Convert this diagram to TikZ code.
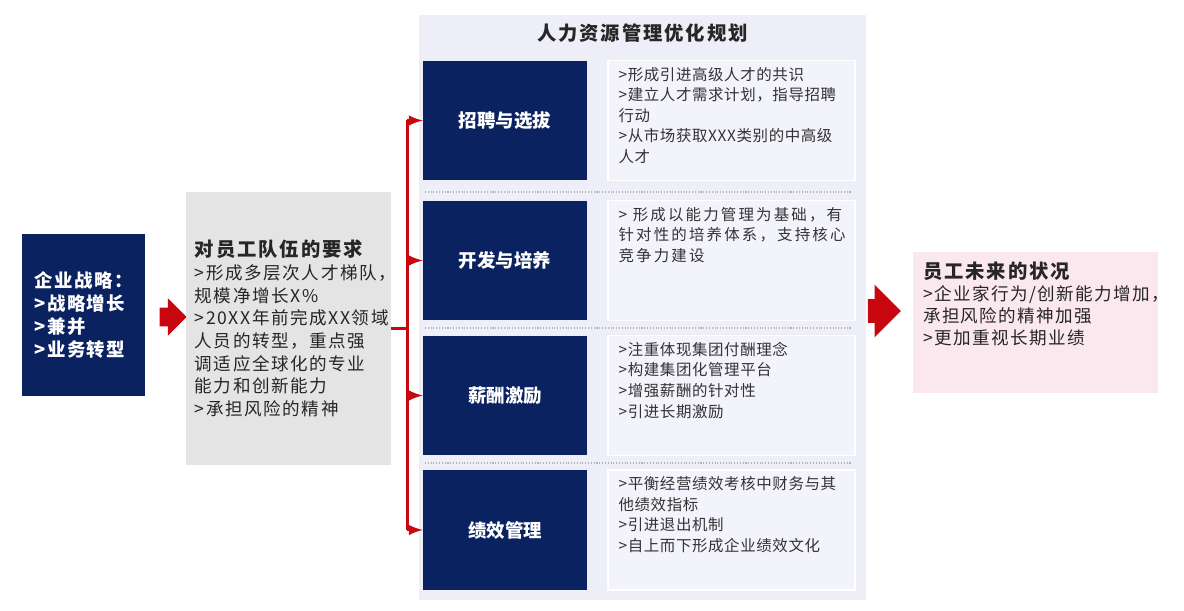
\documentclass[tikz,border=0pt]{standalone}
\usepackage{fontspec}
\setmainfont{Noto Sans CJK SC}
\usepackage{xcolor}
\usetikzlibrary{shapes,arrows,positioning}

\definecolor{navy}{HTML}{0B2260}
\definecolor{arrowred}{HTML}{C8070E}
\definecolor{reqgray}{HTML}{E4E4E4}
\definecolor{panelblue}{HTML}{EEEEF8}
\definecolor{descblue}{HTML}{F3F3FB}
\definecolor{futurepink}{HTML}{FBE8EE}

\newcommand{\titlefont}{\fontsize{11}{14}\selectfont\bfseries\addfontfeatures{LetterSpace=10}}
\newcommand{\bodyfont}{\fontsize{10}{12.9}\selectfont\addfontfeatures{LetterSpace=9}}
\newcommand{\descfont}{\fontsize{8.8}{11.7}\selectfont\addfontfeatures{LetterSpace=4}}

\begin{document}
\begin{tikzpicture}[
    x=0.02cm, y=-0.02cm,
    navybox/.style={rectangle, fill=navy, text=white, font=\fontsize{10.5}{13}\selectfont\bfseries, minimum width=3.28cm, minimum height=2.4cm, inner sep=0},
    descbox/.style={rectangle, fill=descblue, draw=white, line width=0.8pt, minimum width=4.94cm, minimum height=2.4cm},
    desctext/.style={anchor=north west, align=left, font=\descfont, text=black!80, inner sep=3pt},
    blockarrow/.style={single arrow, fill=arrowred, inner xsep=0pt, single arrow head indent=0pt},
    redline/.style={draw=arrowred, line width=1.7pt},
    sepline/.style={draw=black!30, densely dotted, line width=0.6pt}
]
    \useasboundingbox[fill=white] (0,0) rectangle (1184,611);

    % left side
    \node[navybox, minimum width=2.46cm, minimum height=3.26cm, align=left, font=\fontsize{10.5}{13}\selectfont\bfseries\addfontfeatures{LetterSpace=8}] (strat) at (83.5,315)
        {企业战略：\\>战略增长\\>兼并\\>业务转型};
    \node[blockarrow, minimum height=0.54cm, inner ysep=0.18cm, single arrow head extend=0.19cm] (arrowa) at (168.5,317) {};
    \node[rectangle, fill=reqgray, minimum width=4.1cm, minimum height=5.46cm, text width=3.75cm, align=left, font=\bodyfont, text=black!85] (req) at (288.5,328.5)
        {{\titlefont 对员工队伍的要求}\\>形成多层次人才梯队，\\规模净增长X\%\\>20XX年前完成XX领域\\人员的转型，重点强\\调适应全球化的专业\\能力和创新能力\\>承担风险的精神};

    % planning panel
    \node[rectangle, fill=panelblue, minimum width=8.94cm, minimum height=11.7cm] (panel) at (642.5,307.5) {};
    \node[font=\titlefont, text=black!85] (paneltitle) at (642.5,33) {人力资源管理优化规划};

    \node[navybox] (rec) at (505,120.5) {招聘与选拔};
    \node[navybox] (dev) at (505,260.5) {开发与培养};
    \node[navybox] (pay) at (505,395.5) {薪酬激励};
    \node[navybox] (perf) at (505,530) {绩效管理};

    \node[descbox] (recdesc) at (731.5,120.5) {};
    \node[descbox] (devdesc) at (731.5,260.5) {};
    \node[descbox] (paydesc) at (731.5,395.5) {};
    \node[descbox] (perfdesc) at (731.5,530) {};

    \node[desctext] (rectext) at ([xshift=3.2pt,yshift=-1pt]recdesc.north west)
        {>形成引进高级人才的共识\\>建立人才需求计划，指导招聘\\行动\\>从市场获取XXX类别的中高级\\人才};
    \node[desctext, font=\descfont\addfontfeatures{LetterSpace=14}] (devtext) at ([xshift=3.2pt,yshift=-1pt]devdesc.north west)
        {> 形成以能力管理为基础，有\\针对性的培养体系，支持核心\\竞争力建设};
    \node[desctext] (paytext) at ([xshift=3.2pt,yshift=-1pt]paydesc.north west)
        {>注重体现集团付酬理念\\>构建集团化管理平台\\>增强薪酬的针对性\\>引进长期激励};
    \node[desctext] (perftext) at ([xshift=3.2pt,yshift=-1pt]perfdesc.north west)
        {>平衡经营绩效考核中财务与其\\他绩效指标\\>引进退出机制\\>自上而下形成企业绩效文化};

    \draw[sepline] (425,192) -- (852,192);
    \draw[sepline] (425,328) -- (852,328);
    \draw[sepline] (425,463) -- (852,463);

    % branching connector
    \draw[redline] (req.east) -- ++(16,0) coordinate (trunk);
    \draw[redline] (trunk |- rec.west) -- (trunk |- perf.west);
    \foreach \target in {rec, dev, pay, perf}
        \draw[redline, -latex] (trunk |- \target.west) -- (\target.west);

    % right side
    \node[blockarrow, minimum height=0.66cm, inner ysep=0.23cm, single arrow head extend=0.29cm] (arrowb) at (878.5,311) {};
    \node[rectangle, fill=futurepink, minimum width=4.9cm, minimum height=2.82cm] (future) at (1035.5,322.5) {};
    \node[anchor=north west, align=left, inner sep=3pt, text=black!85, font=\fontsize{10}{12.5}\selectfont\addfontfeatures{LetterSpace=8}] (futuretext) at ([xshift=2.7pt,yshift=-2.5pt]future.north west)
        {{\titlefont 员工未来的状况}\\>企业家行为/创新能力增加，\\承担风险的精神加强\\>更加重视长期业绩};
\end{tikzpicture}
\end{document}
